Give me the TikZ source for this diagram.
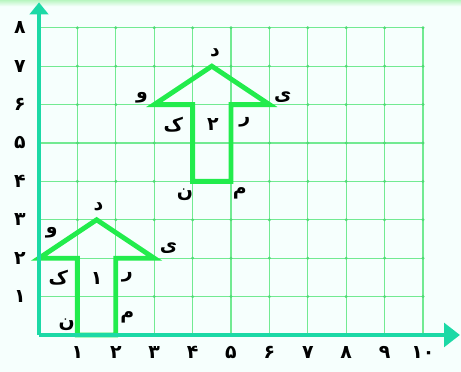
\documentclass[tikz,border=0pt]{standalone}
\usepackage{fontspec}
\TeXXeTstate=1
\newfontfamily\arabicfont[Script=Arabic]{DejaVu Sans}
\usetikzlibrary{arrows.meta}
\definecolor{gridc}{HTML}{72EA92}
\definecolor{axisc}{HTML}{1CD9A6}
\definecolor{arrc}{HTML}{22EC4C}
\definecolor{bgc}{HTML}{F6FFFD}
\definecolor{topc}{HTML}{B8F5C0}
\definecolor{dotc}{HTML}{4FDC74}
\begin{document}
\begin{tikzpicture}[x=1cm,y=1cm,
  lbl/.style={font=\arabicfont\bfseries\fontsize{14}{16}\selectfont, text=black, inner sep=0pt},
  num/.style={font=\arabicfont\bfseries\fontsize{14}{16}\selectfont, text=black, inner sep=0pt},
  gridline/.style={draw=gridc, line width=0.9pt},
  arrowshape/.style={draw=arrc, line width=3.6pt, line join=miter},
  axisline/.style={draw=axisc, line width=3pt}]
\useasboundingbox (-1.016,-0.964) rectangle (10.99,8.724);
\fill[bgc] (-1.016,-0.964) rectangle (10.99,8.724);
\shade[top color=topc, bottom color=bgc] (-1.016,8.56) rectangle (10.99,8.724);
% grid
\foreach \i in {1,...,10} \draw[gridline] (\i,0) -- (\i,8);
\foreach \j in {1,...,8} \draw[gridline] (0,\j) -- (10,\j);
\foreach \i in {1,...,10} \foreach \j in {1,...,8} \fill[dotc] (\i,\j) circle (1.2pt);
% arrow 1
\coordinate (a1) at (1,0); \coordinate (b1) at (1,2); \coordinate (c1) at (0,2);
\coordinate (d1) at (1.5,3); \coordinate (e1) at (3,2); \coordinate (f1) at (2,2); \coordinate (g1) at (2,0);
\draw[arrowshape] (a1) -- (b1) -- (c1) -- (d1) -- (e1) -- (f1) -- (g1) -- cycle;
% arrow 2
\coordinate (a2) at (4,4); \coordinate (b2) at (4,6); \coordinate (c2) at (3,6);
\coordinate (d2) at (4.5,7); \coordinate (e2) at (6,6); \coordinate (f2) at (5,6); \coordinate (g2) at (5,4);
\draw[arrowshape] (a2) -- (b2) -- (c2) -- (d2) -- (e2) -- (f2) -- (g2) -- cycle;
% axes
\coordinate (O) at (0,0);
\coordinate (xend) at (10.6,0);
\coordinate (yend) at (0,8.45);
\draw[axisline] (O) -- (xend);
\draw[axisline] (O) -- (yend);
\fill[axisc] (10.55,0.32) -- (10.96,0) -- (10.55,-0.32) -- cycle;
\fill[axisc] (-0.25,8.35) -- (0,8.66) -- (0.25,8.35) -- cycle;
% axis numbers
\node[num] (x1) at (1,-0.45) {۱};
\node[num] (x2) at (2,-0.45) {۲};
\node[num] (x3) at (3,-0.45) {۳};
\node[num] (x4) at (4,-0.45) {۴};
\node[num] (x5) at (5,-0.45) {۵};
\node[num] (x6) at (6,-0.45) {۶};
\node[num] (x7) at (7,-0.45) {۷};
\node[num] (x8) at (8,-0.45) {۸};
\node[num] (x9) at (9,-0.45) {۹};
\node[num] (x10) at (10,-0.45) {۱۰};
\node[num] (y1) at (-0.5,1) {۱};
\node[num] (y2) at (-0.5,2) {۲};
\node[num] (y3) at (-0.5,3) {۳};
\node[num] (y4) at (-0.5,4) {۴};
\node[num] (y5) at (-0.5,5) {۵};
\node[num] (y6) at (-0.5,6) {۶};
\node[num] (y7) at (-0.5,7) {۷};
\node[num] (y8) at (-0.5,8) {۸};
% labels arrow 1
\node[lbl] (l1d) at (1.55,3.33) {\beginR د\endR};
\node[lbl] (l1v) at (0.33,2.65) {\beginR و\endR};
\node[lbl] (l1y) at (3.37,2.27) {\beginR ی\endR};
\node[lbl] (l1k) at (0.5,1.5) {\beginR ک\endR};
\node[lbl] (l1n1) at (1.5,1.48) {۱};
\node[lbl] (l1r) at (2.3,1.5) {\beginR ر\endR};
\node[lbl] (l1n) at (0.72,0.26) {\beginR ن\endR};
\node[lbl] (l1m) at (2.3,0.47) {\beginR م\endR};
% labels arrow 2
\node[lbl] (l2d) at (4.58,7.34) {\beginR د\endR};
\node[lbl] (l2v) at (2.68,6.17) {\beginR و\endR};
\node[lbl] (l2y) at (6.35,6.2) {\beginR ی\endR};
\node[lbl] (l2k) at (3.5,5.47) {\beginR ک\endR};
\node[lbl] (l2n2) at (4.53,5.47) {۲};
\node[lbl] (l2r) at (5.36,5.55) {\beginR ر\endR};
\node[lbl] (l2n) at (3.8,3.65) {\beginR ن\endR};
\node[lbl] (l2m) at (5.23,3.7) {\beginR م\endR};
\end{tikzpicture}
\end{document}
